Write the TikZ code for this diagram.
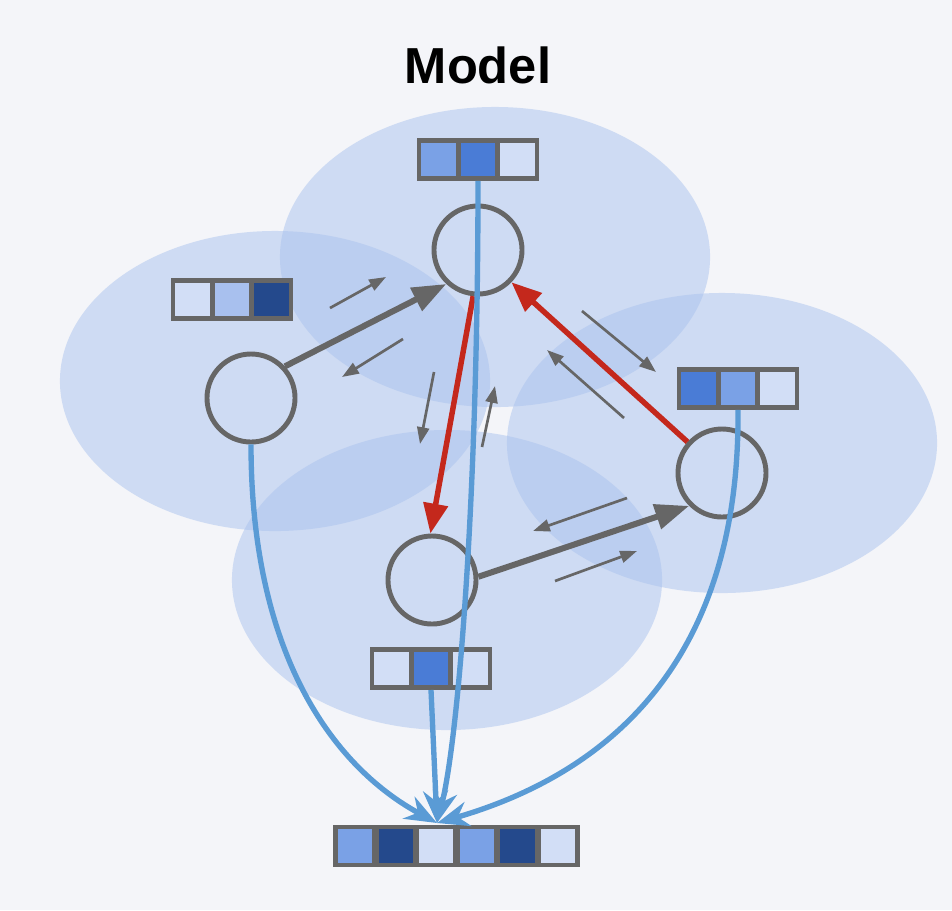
\documentclass[tikz,border=0pt]{standalone}
\usepackage{fontspec}
\setmainfont{Liberation Sans}
\usetikzlibrary{arrows.meta}
\definecolor{bgcol}{HTML}{F4F5F9}
\definecolor{ellblue}{HTML}{A9C2EE}
\definecolor{cgray}{HTML}{666666}
\definecolor{cred}{HTML}{C4281C}
\definecolor{cline}{HTML}{5A9BD5}
\definecolor{clight}{HTML}{D2DEF6}
\definecolor{cpale}{HTML}{A8C0EE}
\definecolor{cmid}{HTML}{7AA1E6}
\definecolor{cstrong}{HTML}{4A7CD6}
\definecolor{cdark}{HTML}{24498C}
\begin{document}
\begin{tikzpicture}[x=0.025cm,y=-0.025cm,
    unit/.style={circle,draw=cgray,line width=3.5pt,minimum size=2.2cm,inner sep=0pt},
    cell/.style={draw=cgray,line width=3.5pt,minimum width=0.98cm,minimum height=0.95cm,inner sep=0pt},
    flow/.style={draw=cgray,line width=4.3pt,-{Triangle[length=0.85cm,width=0.62cm]}},
    back/.style={draw=cred,line width=3.9pt,-{Triangle[length=0.75cm,width=0.6cm]}},
    msg/.style={draw=cgray,line width=1.9pt,-{Triangle[length=0.42cm,width=0.3cm]}},
    pool/.style={draw=cline,line width=3.8pt,-{Stealth[length=0.8cm,width=0.62cm]}}]
    \fill[bgcol] (0,0) rectangle (952,910);
    \useasboundingbox (0,0) rectangle (952,910);
    \node[font=\bfseries\fontsize{36}{40}\selectfont] (title) at (478,65) {Model};
    % neighbourhoods
    \foreach \x/\y in {495/257,275/381,722/443,447/580}
        \fill[ellblue,opacity=0.5] (\x,\y) ellipse [x radius=5.375cm,y radius=3.75cm];
    % units
    \node[unit] (tc) at (478,250) {};
    \node[unit] (lc) at (251,398) {};
    \node[unit] (rc) at (722,473) {};
    \node[unit] (bc) at (432,580) {};
    % embeddings
    \foreach \c [count=\i] in {cmid,cstrong,clight}
        \node[cell,fill=\c] (topv\i) at ({399.2+39.4*\i},159.5) {};
    \foreach \c [count=\i] in {clight,cpale,cdark}
        \node[cell,fill=\c] (leftv\i) at ({153.2+39.4*\i},299.5) {};
    \foreach \c [count=\i] in {cstrong,cmid,clight}
        \node[cell,fill=\c] (rightv\i) at ({659.2+39.4*\i},388.5) {};
    \foreach \c [count=\i] in {clight,cstrong,clight}
        \node[cell,fill=\c] (botv\i) at ({352.2+39.4*\i},668.5) {};
    \foreach \c [count=\i] in {cmid,cdark,clight,cmid,cdark,clight}
        \node[cell,fill=\c] (outv\i) at ({314.5+40.6*\i},846) {};
    % messages
    \draw[flow] (lc.43) -- (tc.227);
    \draw[flow] (bc.4) -- (rc.225);
    \draw[back] (tc.264) -- (bc.92);
    \draw[back] (rc.138) -- (tc.316);
    \foreach \a/\b/\c/\d in {330/308/386/277, 403/339/342/377, 434/372/420/444, 482/447/495/386,
        582/311/656/372, 624/418/547/350, 627/498/533/531, 555/581/637/551}
        \draw[msg] (\a,\b) -- (\c,\d);
    % readout
    \coordinate (merge) at (437,823);
    \draw[pool] (lc.south) .. controls (251,650) and (330,765) .. (merge);
    \draw[pool] (topv2.south) .. controls (478,500) and (458,740) .. (merge);
    \draw[pool] (botv2.south) -- (merge);
    \draw[pool] (rightv2.south) .. controls (740,650) and (620,770) .. (merge);
\end{tikzpicture}
\end{document}
